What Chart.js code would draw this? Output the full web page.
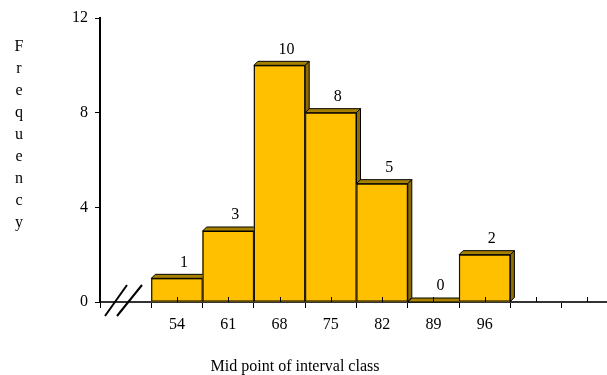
<!DOCTYPE html>
<html>
<head>
<meta charset="utf-8">
<script src="https://cdn.jsdelivr.net/npm/chart.js@4/dist/chart.umd.min.js"></script>
<style>
  html, body { margin: 0; padding: 0; background: #fff; overflow: hidden; }
  #wrap { width: 607px; height: 375px; overflow: hidden; position: relative; }
  canvas { display: block; }
</style>
</head>
<body>
<div id="wrap"><canvas id="c" width="614" height="375"></canvas></div>
<script>
// ---- data ----
const categories = ["", "54", "61", "68", "75", "82", "89", "96", "", ""];
const frequencies = [null, 1, 3, 10, 8, 5, 0, 2, null, null];
const yTicks = [0, 4, 8, 12];
const yTitle = "Frequency";
const xTitle = "Mid point of interval class";

const SERIF = "'Liberation Serif', 'Times New Roman', serif";
const FRONT = "#FFC000";
const TOP = "#A88000";
const SIDE = "#8E6C00";

const barPlugin = {
  id: 'bar3d',
  afterDatasetsDraw(chart) {
    const ctx = chart.ctx;
    const meta = chart.getDatasetMeta(0);
    const d = 4;
    ctx.save();
    ctx.lineWidth = 1;
    ctx.strokeStyle = '#000';
    meta.data.forEach((bar, i) => {
      const v = frequencies[i];
      if (v === null || v === undefined) return;
      const p = bar.getProps(['x', 'y', 'base', 'width'], true);
      const l = p.x - p.width / 2, r = p.x + p.width / 2;
      const t = p.y, b = p.base;
      // front
      ctx.fillStyle = FRONT;
      ctx.fillRect(l, t, r - l, b - t);
      if (b - t > 0) ctx.strokeRect(l + 0.5, t + 0.5, r - l - 1, b - t - 1);
      // top face
      ctx.beginPath();
      ctx.moveTo(l, t); ctx.lineTo(l + d, t - d); ctx.lineTo(r + d, t - d); ctx.lineTo(r, t); ctx.closePath();
      ctx.fillStyle = TOP; ctx.fill(); ctx.stroke();
      // side face
      if (b - t > 0) {
        ctx.beginPath();
        ctx.moveTo(r, t); ctx.lineTo(r + d, t - d); ctx.lineTo(r + d, b - d); ctx.lineTo(r, b); ctx.closePath();
        ctx.fillStyle = SIDE; ctx.fill(); ctx.stroke();
      }
    });
    // value labels
    ctx.fillStyle = '#000';
    ctx.font = '16px ' + SERIF;
    ctx.textAlign = 'center';
    ctx.textBaseline = 'middle';
    meta.data.forEach((bar, i) => {
      const v = frequencies[i];
      if (v === null || v === undefined) return;
      const p = bar.getProps(['x', 'y'], true);
      ctx.fillText(String(v), p.x + 7, p.y - 16);
    });
    ctx.restore();
  },
  afterDraw(chart) {
    const ctx = chart.ctx;
    const xs = chart.scales.x;
    const ca = chart.chartArea;
    ctx.save();
    // minor centre ticks (upward)
    ctx.strokeStyle = '#000';
    ctx.lineWidth = 1;
    for (let i = 1; i < categories.length; i++) {
      const x = Math.round(xs.getPixelForValue(i)) + 0.5;
      ctx.beginPath(); ctx.moveTo(x, ca.bottom); ctx.lineTo(x, ca.bottom - 5); ctx.stroke();
    }
    // axis break mark
    ctx.lineWidth = 2;
    const bx = ca.left, by = ca.bottom;
    ctx.beginPath(); ctx.moveTo(bx + 5, by + 14); ctx.lineTo(bx + 27, by - 17); ctx.stroke();
    ctx.beginPath(); ctx.moveTo(bx + 17, by + 14); ctx.lineTo(bx + 42, by - 17); ctx.stroke();
    // y title stacked letters
    ctx.fillStyle = '#000';
    ctx.font = '16px ' + SERIF;
    ctx.textAlign = 'center';
    ctx.textBaseline = 'alphabetic';
    [...yTitle].forEach((ch, i) => ctx.fillText(ch, 19, 51 + 22 * i));
    // x title
    ctx.fillText(xTitle, 295, 371);
    ctx.restore();
  }
};

new Chart(document.getElementById('c'), {
  type: 'bar',
  data: {
    labels: categories,
    datasets: [{
      data: frequencies,
      backgroundColor: FRONT,
      borderColor: '#000',
      borderWidth: 1,
      barPercentage: 1,
      categoryPercentage: 1
    }]
  },
  options: {
    responsive: false,
    animation: false,
    devicePixelRatio: 1,
    layout: { padding: { left: 0, right: 1, top: 18, bottom: 0 } },
    plugins: { legend: { display: false }, tooltip: { enabled: false } },
    scales: {
      x: {
        afterFit(s) { s.height = 73; },
        grid: { drawOnChartArea: false, tickLength: 6, color: '#000', lineWidth: 1, offset: true },
        border: { display: true, color: '#333', width: 2 },
        ticks: { color: '#000', font: { family: SERIF, size: 16 }, padding: 7, maxRotation: 0, autoSkip: false }
      },
      y: {
        min: 0, max: 12,
        afterFit(s) { s.width = 100; },
        afterBuildTicks(s) { s.ticks = yTicks.map(v => ({ value: v })); },
        grid: { drawOnChartArea: false, tickLength: 5, color: '#000', lineWidth: 1 },
        border: { display: true, color: '#000', width: 2 },
        ticks: { color: '#000', font: { family: SERIF, size: 16 }, padding: 7 }
      }
    }
  },
  plugins: [barPlugin]
});
</script>
</body>
</html>
